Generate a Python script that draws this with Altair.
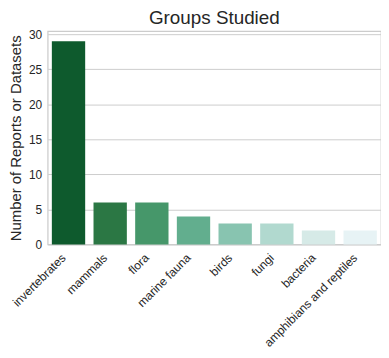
import altair as alt
import pandas as pd

groups = ["invertebrates", "mammals", "flora", "marine fauna", "birds", "fungi",
          "bacteria", "amphibians and reptiles"]
counts = [29, 6, 6, 4, 3, 3, 2, 2]
colors = ["#0e5a2d", "#2b7744", "#46976a", "#62ae8e", "#88c4b0", "#b1d9cf",
          "#d6eae7", "#e7f3f5"]

df = pd.DataFrame({"group": groups, "count": counts})

font = "Liberation Sans"

chart = alt.Chart(df).mark_bar().encode(
    x=alt.X("group:N", sort=groups, title=None,
            scale=alt.Scale(paddingInner=0.2, paddingOuter=0.1),
            axis=alt.Axis(labelAngle=-45, labelAlign="right", labelBaseline="middle",
                          labelFontSize=12, labelColor="#262626", labelFont=font,
                          ticks=False, tickSize=0, domain=False, grid=False,
                          labelPadding=11, labelOffset=-5, labelBound=False,
                          labelOverlap=False)),
    y=alt.Y("count:Q", title="Number of Reports or Datasets",
            scale=alt.Scale(domain=[0, 30.45], nice=False),
            axis=alt.Axis(values=[0, 5, 10, 15, 20, 25, 30], labelFontSize=12,
                          labelColor="#262626", labelFont=font, ticks=False,
                          tickSize=0, domain=False, gridColor="#cccccc", gridWidth=1,
                          labelPadding=6, titleFontSize=15, titleFont=font,
                          titleFontWeight="normal", titleColor="#262626",
                          titlePadding=5)),
    color=alt.Color("group:N", sort=groups, legend=None,
                    scale=alt.Scale(domain=groups, range=colors)),
).properties(
    width=336, height=215,
    title=alt.TitleParams("Groups Studied", fontSize=19, font=font,
                          fontWeight="normal", color="#262626", offset=0,
                          frame="group", anchor="middle"),
    autosize=alt.AutoSizeParams(type="none"),
    padding={"left": 40, "top": 22, "right": 0, "bottom": 104},
).configure_view(stroke="#cccccc", strokeWidth=1.25)

chart.save("out.html", embed_options={"renderer": "svg", "actions": False})
